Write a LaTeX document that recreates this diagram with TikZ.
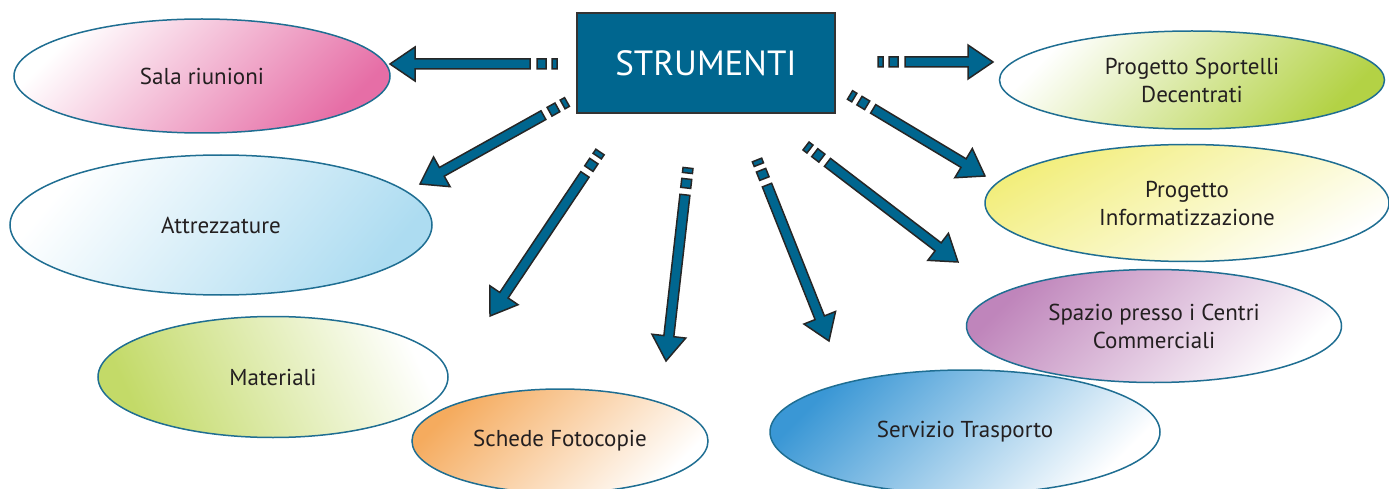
\documentclass[tikz,border=0pt]{standalone}
\usepackage{fontspec}
\setmainfont{PT Sans}
\usepackage{xcolor}
\usepackage{tikz}
\usetikzlibrary{shapes, arrows, positioning, calc}

\definecolor{strublue}{HTML}{00668F}
\definecolor{rimblue}{HTML}{1F6E92}
\definecolor{inkgray}{HTML}{231F20}
\definecolor{salapink}{HTML}{E66EA6}
\definecolor{attrblue}{HTML}{ADDCF1}
\definecolor{matgreen}{HTML}{C3DA68}
\definecolor{schorange}{HTML}{F5AB5E}
\definecolor{sporgreen}{HTML}{B3D245}
\definecolor{infoyellow}{HTML}{F2EE7C}
\definecolor{spazpurple}{HTML}{BF85BB}
\definecolor{servblue}{HTML}{3A97D5}

\tikzset{
  bubble/.style={ellipse, draw=rimblue, line width=1.5pt, inner sep=0pt, align=center,
    text=inkgray, font=\fontsize{23}{28}\selectfont},
  tint/.style n args={3}{top color=#1, bottom color=#2, shading angle=#3},
  hub/.style={rectangle, draw=black!80, line width=1.4pt, fill=strublue, text=white,
    minimum width=258pt, minimum height=100pt, font=\fontsize{35}{35}\selectfont},
  flow/.style={fill=strublue, draw=black!85, line width=1.5pt, line join=miter},
}

% block arrow with two small dashes at its tail
\newcommand{\flowarrow}[2]{%
  \draw[flow] let \p1=($(#2)-(#1)$), \n1={atan2(\y1,\x1)}, \n2={veclen(\x1,\y1)} in
    {[shift={(#1)}, rotate=\n1]
     (0,-5) rectangle (5,5)
     (11,-5) rectangle (20,5)
     (27,-5) -- ({\n2-25},-5) -- ({\n2-25},-17) -- ({\n2},0) -- ({\n2-25},17) -- ({\n2-25},5) -- (27,5) -- cycle};
}

\begin{document}
\begin{tikzpicture}[x=1pt, y=-1pt]
\useasboundingbox (0,0) rectangle (1389,489);

% centre box
\node[hub] (strumenti) at (706,63) {STRUMENTI};

% left side
\node[bubble, tint={white}{salapink}{45}, minimum width=376pt, minimum height=114pt] (sala) at (202,76) {Sala riunioni};
\node[bubble, tint={white}{attrblue}{50}, minimum width=422pt, minimum height=140pt] (attrezzature) at (221,225) {Attrezzature};
\node[bubble, tint={matgreen}{white}{115}, minimum width=350pt, minimum height=121pt] (materiali) at (273,377) {Materiali};
\node[bubble, tint={schorange}{white}{45}, minimum width=296pt, minimum height=104pt] (schede) at (560,441) {Schede Fotocopie};

% right side
\node[bubble, tint={white}{sporgreen}{45}, minimum width=385pt, minimum height=98pt] (sportelli) at (1192,80) {Progetto Sportelli\\Decentrati};
\node[bubble, tint={infoyellow}{white}{30}, minimum width=404pt, minimum height=117pt] (informatizzazione) at (1187,203) {Progetto\\Informatizzazione};
\node[bubble, tint={spazpurple}{white}{45}, minimum width=375pt, minimum height=113pt] (spazio) at (1154,326) {Spazio presso i Centri\\Commerciali};
\node[bubble, tint={servblue}{white}{45}, minimum width=390pt, minimum height=124pt] (servizio) at (965,432) {Servizio Trasporto};

% arrow ends
\coordinate (s1) at (557,64);  \coordinate (e1) at (390,64);
\coordinate (s2) at (878,62);  \coordinate (e2) at (993,62);
\coordinate (s3) at (567,102); \coordinate (e3) at (420,184);
\coordinate (s4) at (600,152); \coordinate (e4) at (490,316);
\coordinate (s5) at (688,168); \coordinate (e5) at (666,361);
\coordinate (s6) at (757,160); \coordinate (e6) at (829,341);
\coordinate (s7) at (806,146); \coordinate (e7) at (958,262);
\coordinate (s8) at (850,95);  \coordinate (e8) at (985,176);

\foreach \i in {1,...,8} {
  \flowarrow{s\i}{e\i}
}
\end{tikzpicture}
\end{document}
